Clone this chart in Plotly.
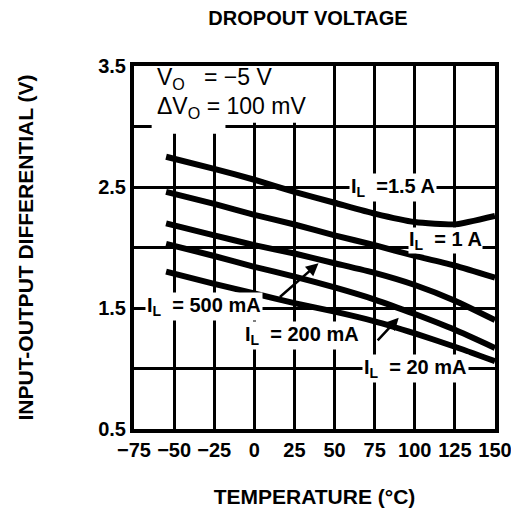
import plotly.graph_objects as go

# temperature points (deg C)
temps = [-55, -25, 0, 25, 50, 75, 100, 125, 150]

# input-output differential (V) for each load current
il_1500ma = [2.75, 2.65, 2.56, 2.46, 2.37, 2.28, 2.21, 2.19, 2.26]
il_1000ma = [2.46, 2.36, 2.27, 2.19, 2.10, 2.02, 1.93, 1.85, 1.75]
il_500ma = [2.20, 2.10, 2.02, 1.95, 1.87, 1.79, 1.69, 1.56, 1.40]
il_200ma = [2.03, 1.93, 1.84, 1.76, 1.67, 1.57, 1.45, 1.32, 1.17]
il_20ma = [1.80, 1.70, 1.62, 1.54, 1.47, 1.39, 1.29, 1.18, 1.06]

x_ticks = [-75, -50, -25, 0, 25, 50, 75, 100, 125, 150]
x_ticktext = ["\u221275", "\u221250", "\u221225", "0", "25", "50", "75", "100", "125", "150"]
y_ticks = [0.5, 1.0, 1.5, 2.0, 2.5, 3.0, 3.5]
y_ticktext = ["0.5", "", "1.5", "", "2.5", "", "3.5"]

FONT = "Liberation Sans, Arial, Helvetica, sans-serif"

fig = go.Figure()
for ys in [il_1500ma, il_1000ma, il_500ma, il_200ma, il_20ma]:
    fig.add_trace(go.Scatter(
        x=temps, y=ys, mode="lines",
        line=dict(color="black", width=6, shape="spline", smoothing=0.5),
        hoverinfo="skip",
    ))

fig.update_layout(
    width=519, height=512,
    margin=dict(l=126, r=32, t=58, b=91),
    plot_bgcolor="white", paper_bgcolor="white",
    showlegend=False,
    font=dict(family=FONT, color="black"),
    title=dict(text="DROPOUT VOLTAGE", x=0.578, xanchor="center", y=0.98, yanchor="middle",
               font=dict(size=20, weight="bold", color="black")),
    xaxis=dict(
        range=[-75, 150], tickvals=x_ticks, ticktext=x_ticktext,
        showgrid=True, gridcolor="black", gridwidth=2.5, zeroline=False,
        showline=True, linecolor="black", linewidth=4, mirror=True, ticks="",
        tickfont=dict(size=20, weight="bold"),
        title=dict(text="TEMPERATURE (\u00b0C)", standoff=30, font=dict(size=21, weight="bold")),
    ),
    yaxis=dict(
        range=[0.5, 3.5], tickvals=y_ticks, ticktext=y_ticktext,
        showgrid=True, gridcolor="black", gridwidth=2.5, zeroline=False,
        showline=True, linecolor="black", linewidth=4, mirror=True, ticks="",
        tickfont=dict(size=20, weight="bold"),
        title=dict(text="INPUT-OUTPUT DIFFERENTIAL (V)", standoff=60, font=dict(size=21, weight="bold")),
    ),
    shapes=[
        # blank area behind the conditions text
        dict(type="rect", layer="between", xref="x", yref="y",
             x0=-75, x1=35, y0=3.03, y1=3.5, fillcolor="white", line_width=0),
        dict(type="rect", layer="between", xref="x", yref="y",
             x0=-64, x1=-18, y0=2.94, y1=3.05, fillcolor="white", line_width=0),
    ],
)

lab = dict(size=20, weight="bold", color="black")

fig.add_annotation(x=-62, y=3.40, xref="x", yref="y", xanchor="left", showarrow=False,
                   text="V<sub>O</sub>   = \u22125 V", font=dict(size=23, color="black"))
fig.add_annotation(x=-62, y=3.16, xref="x", yref="y", xanchor="left", showarrow=False,
                   text="\u0394V<sub>O</sub> = 100 mV", font=dict(size=23, color="black"))

fig.add_annotation(x=59, y=2.50, xanchor="left", showarrow=False, bgcolor="white", borderpad=1,
                   text="I<sub>L</sub>  =1.5 A", font=lab)
fig.add_annotation(x=96, y=2.06, xanchor="left", showarrow=False, bgcolor="white", borderpad=0,
                   text="I<sub>L</sub>  = 1 A", font=lab)
fig.add_annotation(x=-68, y=1.51, xanchor="left", showarrow=False, bgcolor="white", borderpad=1,
                   text="I<sub>L</sub>  = 500 mA", font=lab)
fig.add_annotation(x=-7, y=1.27, xanchor="left", showarrow=False, bgcolor="white", borderpad=1,
                   text="I<sub>L</sub>  = 200 mA", font=lab)
fig.add_annotation(x=67, y=1.00, xanchor="left", showarrow=False, bgcolor="white", borderpad=1,
                   text="I<sub>L</sub>  = 20 mA", font=lab)

# pointer arrows
fig.add_annotation(x=40, y=1.87, ax=15, ay=1.58, axref="x", ayref="y", text="",
                   showarrow=True, arrowhead=2, arrowsize=1, arrowwidth=2.5, arrowcolor="black")
fig.add_annotation(x=90, y=1.42, ax=76, ay=1.22, axref="x", ayref="y", text="",
                   showarrow=True, arrowhead=2, arrowsize=1, arrowwidth=2.5, arrowcolor="black")

fig.write_html("out.html")
